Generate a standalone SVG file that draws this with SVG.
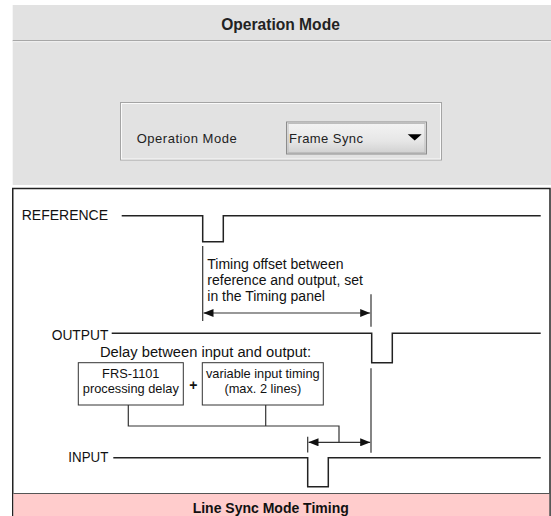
<svg xmlns="http://www.w3.org/2000/svg" width="551" height="516" viewBox="0 0 551 516">
<defs>
<linearGradient id="dd" x1="0" y1="0" x2="0" y2="1">
<stop offset="0" stop-color="#f4f4f4"/>
<stop offset="0.6" stop-color="#e6e6e6"/>
<stop offset="1" stop-color="#cfcfcf"/>
</linearGradient>
<marker id="ah" viewBox="0 0 10 8" refX="10" refY="4" markerWidth="10" markerHeight="8" markerUnits="userSpaceOnUse" orient="auto-start-reverse">
<path d="M0,0 L10,4 L0,8 Z" fill="#111"/>
</marker>
<style>
.ui{font-family:"Liberation Sans",Arial,sans-serif;fill:#222}
.lbl{font-family:"Liberation Sans",Arial,sans-serif;font-size:14px;fill:#111}
.bt{font-family:"Liberation Sans",Arial,sans-serif;font-size:12.8px;fill:#111;text-anchor:middle}
.sig{fill:none;stroke:#222;stroke-width:1.5}
.thin{fill:none;stroke:#333;stroke-width:1.2}
.box{fill:#fff;stroke:#333;stroke-width:1}
</style>
</defs>
<rect width="551" height="516" fill="#fff"/>

<g id="panel">
<rect x="12.7" y="5" width="539" height="180" fill="#e2e2e2"/>
<line x1="12.7" y1="40.7" x2="551" y2="40.7" stroke="#999" stroke-width="1"/>
<line x1="12.7" y1="41.7" x2="551" y2="41.7" stroke="#f4f4f4" stroke-width="1"/>
<text class="ui" x="280.5" y="30" font-size="15.6" font-weight="bold" text-anchor="middle">Operation Mode</text>
<rect x="120.5" y="102.5" width="321" height="57.5" fill="none" stroke="#a4a4a4"/>
<rect x="121.5" y="103.5" width="319" height="55.5" fill="none" stroke="#fafafa"/>
<text class="ui" x="136.7" y="143.3" font-size="13" textLength="100" lengthAdjust="spacing">Operation Mode</text>
<g id="dropdown">
<rect x="286.5" y="122" width="140" height="32" fill="url(#dd)" stroke="#8c8c8c"/>
<rect x="288" y="123.5" width="137" height="29" fill="none" stroke="#bdbdbd"/>
<text class="ui" x="289" y="143.3" font-size="13" textLength="74" lengthAdjust="spacing" fill="#111">Frame Sync</text>
<path d="M407.7,134.3 L421.7,134.3 L414.7,140.5 Z" fill="#000"/>
</g>
</g>

<g id="timing-frame">
<rect x="12.75" y="188.5" width="537.25" height="340" fill="#fff" stroke="#222" stroke-width="1.5"/>
<rect x="13.5" y="494" width="535.75" height="30" fill="#ffcccc"/>
<line x1="13.5" y1="493.5" x2="549.25" y2="493.5" stroke="#555" stroke-width="1.2"/>
<text class="lbl" x="270.7" y="513" font-weight="bold" text-anchor="middle">Line Sync Mode Timing</text>
</g>

<g id="reference">
<text class="lbl" x="21.7" y="220">REFERENCE</text>
<path class="sig" d="M121.7,215.7 H202.7 V241.7 H223.3 V215.7 H540.7"/>
</g>

<g id="output">
<text class="lbl" x="51.7" y="340" textLength="56.7" lengthAdjust="spacingAndGlyphs">OUTPUT</text>
<path class="sig" d="M111.7,333.3 H371.7 V362.7 H392.3 V333.3 H540.7"/>
</g>

<g id="input">
<text class="lbl" x="68.3" y="461.7" textLength="40" lengthAdjust="spacingAndGlyphs">INPUT</text>
<path class="sig" d="M113.3,457.7 H307.7 V486.7 H328.3 V457.7 H540.7"/>
</g>

<g id="offset-note">
<text class="lbl" x="207.3" y="269">Timing offset between</text>
<text class="lbl" x="207.3" y="285">reference and output, set</text>
<text class="lbl" x="207.3" y="301">in the Timing panel</text>
</g>

<g id="delay-note">
<text class="lbl" x="100" y="356.7" textLength="211" lengthAdjust="spacingAndGlyphs">Delay between input and output:</text>
</g>

<g id="frs-box">
<rect class="box" x="78.3" y="362.7" width="105" height="42.3"/>
<text class="bt" x="130.8" y="378.3">FRS-1101</text>
<text class="bt" x="130.8" y="393">processing delay</text>
</g>

<text id="plus" class="lbl" x="193.3" y="390" font-weight="bold" text-anchor="middle">+</text>

<g id="variable-box">
<rect class="box" x="202.3" y="362.7" width="121" height="42.3"/>
<text class="bt" x="262.8" y="378.3">variable input timing</text>
<text class="bt" x="262.8" y="393">(max. 2 lines)</text>
</g>

<g id="connectors">
<line class="thin" x1="202.7" y1="246" x2="202.7" y2="321"/>
<line class="thin" x1="371" y1="294.3" x2="371" y2="326.7"/>
<line class="thin" x1="203.5" y1="313" x2="370.2" y2="313" marker-start="url(#ah)" marker-end="url(#ah)"/>
<line class="thin" x1="371" y1="368.3" x2="371" y2="452.7"/>
<line class="thin" x1="307.7" y1="436.7" x2="307.7" y2="452.5"/>
<line class="thin" x1="308.5" y1="442.3" x2="370.2" y2="442.3" marker-start="url(#ah)" marker-end="url(#ah)"/>
<path class="thin" d="M128.3,405 V426 H339 V442.3"/>
<line class="thin" x1="265.7" y1="405" x2="265.7" y2="426"/>
</g>
</svg>
